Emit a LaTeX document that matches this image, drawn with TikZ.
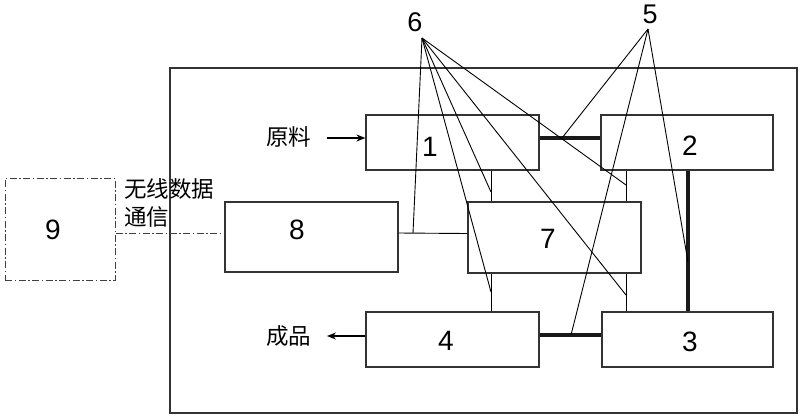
\documentclass[tikz,border=0pt]{standalone}
\usepackage{fontspec}
\setmainfont{Liberation Sans}
\newfontfamily\cjk{Noto Sans CJK SC}
\usetikzlibrary{arrows.meta}
\begin{document}
\begin{tikzpicture}[x=1pt,y=-1pt,
  boxstyle/.style={draw=black!80,line width=1.2pt,inner sep=0pt},
  digit/.style={font=\fontsize{28}{28}\selectfont,inner sep=0pt},
  callout/.style={font=\fontsize{27}{27}\selectfont,inner sep=0pt},
  zh/.style={font=\cjk\fontsize{22.5}{28}\selectfont,inner sep=0pt,align=left},
  thickline/.style={line width=3.5pt,draw=black!90},
  thinline/.style={line width=0.9pt,draw=black},
  leader/.style={line width=0.9pt,draw=black},
  dd/.style={draw=black!75,line width=1pt,dash pattern=on 7pt off 2.5pt on 1.5pt off 2.5pt},
  flow/.style={line width=1.1pt,-{Stealth[length=9pt,width=7pt]}}]
\useasboundingbox (0,0) rectangle (800,416);
% outer frame
\node[boxstyle,minimum width=627pt,minimum height=345pt] (frame) at (483.5,240.5) {};
% boxes
\node[boxstyle,minimum width=173pt,minimum height=55pt] (b1) at (452.5,142.5) {};
\node[boxstyle,minimum width=172pt,minimum height=55pt] (b2) at (687,142.5) {};
\node[boxstyle,minimum width=173pt,minimum height=71pt] (b7) at (554.5,237.5) {};
\node[boxstyle,minimum width=173pt,minimum height=55pt] (b4) at (452.5,339.5) {};
\node[boxstyle,minimum width=171pt,minimum height=55pt] (b3) at (687.5,339.5) {};
\node[boxstyle,minimum width=173pt,minimum height=70pt] (b8) at (311.5,237) {};
\node[dd,minimum width=110pt,minimum height=102pt,inner sep=0pt] (b9) at (60,229) {};
% digits
\node[digit] (t1) at (430,147) {1};
\node[digit] (t2) at (690,146) {2};
\node[digit] (t7) at (548,239) {7};
\node[digit] (t4) at (446,341) {4};
\node[digit] (t3) at (690,342) {3};
\node[digit] (t8) at (297,230) {8};
\node[digit] (t9) at (53,230) {9};
% callout labels
\node[callout] (l6) at (415,22) {6};
\node[callout] (l5) at (650,14) {5};
% Chinese texts
\node[zh,anchor=west] (raw) at (266,137) {原料};
\node[zh,anchor=west] (prod) at (266,336) {成品};
\node[zh,anchor=north west] (wl) at (124,178) {无线数据\\通信};
% flow arrows
\coordinate (a1) at (327,138);
\coordinate (a4) at (327,336);
\draw[flow] (a1) -- ([yshift=4.5pt]b1.west);
\draw[flow] ([yshift=3.5pt]b4.west) -- (a4);
% thick links
\draw[thickline] ([yshift=4.5pt]b1.east) -- ([yshift=4.5pt]b2.west);
\draw[thickline] ([xshift=1pt]b2.south) -- ([xshift=1pt]b2.south |- b3.north);
\draw[thickline] ([yshift=4.5pt]b4.east) -- ([yshift=4.5pt]b3.west);
% thin links
\coordinate (v1) at ([xshift=38.5pt]b1.south);
\draw[thinline] (v1) -- (v1 |- b7.north);
\coordinate (v2) at ([xshift=-63.5pt]b7.south);
\draw[thinline] (v2) -- (v2 |- b4.north);
\coordinate (v3) at ([xshift=-61pt]b2.south);
\draw[thinline] (v3) -- (v3 |- b7.north);
\coordinate (v4) at ([xshift=71.5pt]b7.south);
\draw[thinline] (v4) -- (v4 |- b3.north);
\draw[thinline] ([yshift=4pt]b8.east) -- ([yshift=4pt]b7.west);
% wireless link
\coordinate (m8) at ([yshift=4pt]b8.west);
\draw[dd] (b9.east |- m8) -- (m8);
% leader lines from 6
\coordinate (p6) at (422,38);
\coordinate (e61) at (413,233);
\coordinate (e62) at (491,192);
\coordinate (e63) at (491,292);
\coordinate (e64) at (626,295);
\coordinate (e65) at (626,185);
\foreach \e in {e61,e62,e63,e64,e65} \draw[leader] (p6) -- (\e);
% leader lines from 5
\coordinate (p5) at (648,29);
\coordinate (e51) at (562,138);
\coordinate (e52) at (571,335);
\coordinate (e53) at (688,262);
\foreach \e in {e51,e52,e53} \draw[leader] (p5) -- (\e);
\end{tikzpicture}
\end{document}
